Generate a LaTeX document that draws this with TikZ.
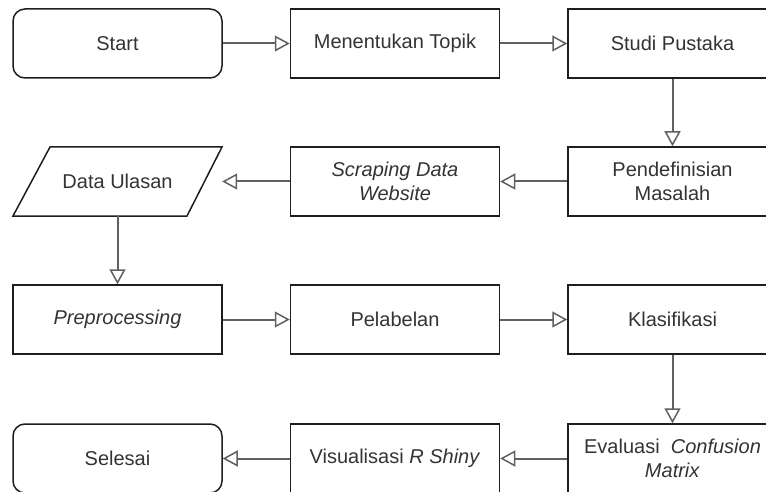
\documentclass[tikz,border=0pt]{standalone}
\usepackage{fontspec}
\setmainfont{Liberation Sans}
\usetikzlibrary{arrows.meta}
\definecolor{txt}{HTML}{333333}
\definecolor{edge}{HTML}{1E1E1E}
\definecolor{conn}{HTML}{606060}
\begin{document}
\begin{tikzpicture}[x=1pt,y=-1pt,
  every node/.style={font=\fontsize{20}{24}\selectfont, text=txt, align=center, inner sep=0pt},
  box/.style={draw=edge, line width=1.5pt, minimum width=209pt, minimum height=69pt},
  rbox/.style={box, rounded corners=12pt},
  ghost/.style={minimum width=209pt, minimum height=69pt},
  flow/.style={draw=conn, line width=2pt, -{Triangle[open, length=15pt, width=16pt, line width=1.5pt]}}
]
\useasboundingbox (0,0) rectangle (766,492);
\clip (0,0) rectangle (766,492);
% row 1
\node[rbox] (start) at (117.5,43.5) {Start};
\node[box] (topik) at (395,43.5) {Menentukan Topik};
\node[box] (studi) at (672.5,43.5) {Studi Pustaka};
% row 2
\node[ghost] (data) at (117.5,181.5) {Data Ulasan};
\draw[edge, line width=1.5pt] (50,147) -- (222,147) -- (187,216) -- (13,216) -- cycle;
\node[box] (scrap) at (395,181.5) {\itshape Scraping Data\\\itshape Website};
\node[box] (def) at (672.5,181.5) {Pendefinisian\\Masalah};
% row 3
\node[box] (prep) at (117.5,319.5) {\itshape Preprocessing};
\node[box] (label) at (395,319.5) {Pelabelan};
\node[box] (klas) at (672.5,319.5) {Klasifikasi};
% row 4
\node[rbox] (selesai) at (117.5,458.5) {Selesai};
\node[box] (vis) at (395,458.5) {Visualisasi \textit{R Shiny}};
\node[box] (eval) at (672.5,458.5) {Evaluasi\ \ \textit{Confusion}\\\textit{Matrix}};
% connectors
\draw[flow] (start) -- (topik);
\draw[flow] (topik) -- (studi);
\draw[flow] (studi) -- (def);
\draw[flow] (def) -- (scrap);
\draw[flow] (scrap) -- (data);
\draw[flow] (data) -- (prep);
\draw[flow] (prep) -- (label);
\draw[flow] (label) -- (klas);
\draw[flow] (klas) -- (eval);
\draw[flow] (eval) -- (vis);
\draw[flow] (vis) -- (selesai);
\end{tikzpicture}
\end{document}
